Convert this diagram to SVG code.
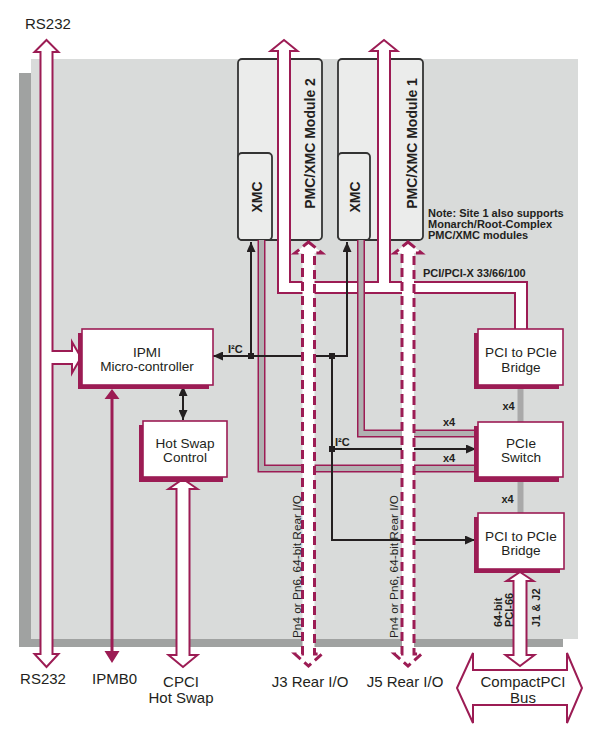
<svg xmlns="http://www.w3.org/2000/svg" width="598" height="738" viewBox="0 0 598 738">
<style>
.t{font-family:"Liberation Sans",Arial,sans-serif;fill:#231f20}
.lbl{font-size:15px;text-anchor:middle}
.box{font-size:13.6px;text-anchor:middle}
.b11{font-size:11px;font-weight:bold}
.b14{font-size:14px;font-weight:bold;text-anchor:middle}
.pn{font-size:11.8px}
.mod{fill:#ebeceb;stroke:#333;stroke-width:1.8}
.hol{fill:#fff;stroke:#9c1c54;stroke-width:2;stroke-linejoin:miter}
.dash{fill:#fff;stroke:#9c1c54;stroke-width:3;stroke-dasharray:9 5}
.blk{fill:none;stroke:#231f20;stroke-width:2}
.x4o{fill:none;stroke:#9c1c54;stroke-width:8}
.x4i{fill:none;stroke:#b1b1b1;stroke-width:5}
.sh{fill:#9c1c54}
.nb{fill:#fff;stroke:#9c1c54;stroke-width:1.6}
</style>
<defs>
<marker id="ah" viewBox="0 0 10 10" refX="10" refY="5" markerWidth="10" markerHeight="9" markerUnits="userSpaceOnUse" orient="auto-start-reverse" preserveAspectRatio="none">
<path d="M0,0 L10,5 L0,10 z" fill="#231f20"/>
</marker>
</defs>

<g id="board">
<rect x="19" y="73" width="544" height="574" fill="#a0a2a1"/>
<rect x="31" y="59" width="547" height="580" fill="#d9dbda"/>
</g>

<g id="module2">
<rect class="mod" x="238" y="59" width="84" height="181" rx="4"/>
<rect class="mod" x="238" y="153" width="34" height="87" rx="4"/>
<text class="t b14" transform="translate(262,197) rotate(-90)">XMC</text>
</g>
<g id="module1">
<rect class="mod" x="338" y="59" width="85" height="181" rx="4"/>
<rect class="mod" x="338" y="153" width="32" height="87" rx="4"/>
<text class="t b14" transform="translate(360,197) rotate(-90)">XMC</text>
</g>

<g id="connectors">
<path class="hol" d="M284 40 L297.5 51 L290 51 L290 282 L378 282 L378 51 L370.5 51 L384 40 L397.5 51 L390 51 L390 282 L527 282 L527 330 L515 330 L515 293 L278 293 L278 51 L270.5 51 Z"/>
<path class="x4o" d="M261.5 240 V468.5 H478"/>
<path class="x4i" d="M261.5 240 V468.5 H478"/>
<path class="x4o" d="M361 240 V433.5 H478"/>
<path class="x4i" d="M361 240 V433.5 H478"/>
<path class="blk" d="M251 242 V356 H347 V242" marker-start="url(#ah)" marker-end="url(#ah)"/>
<path class="blk" d="M251 356 H213" marker-end="url(#ah)"/>
<path class="blk" d="M332 356 V540 H475" marker-end="url(#ah)"/>
<path class="blk" d="M332 449 H476" marker-end="url(#ah)"/>
<rect x="248" y="353" width="6" height="6" fill="#231f20"/>
<rect x="329" y="353" width="6" height="6" fill="#231f20"/>
<rect x="329" y="446" width="6" height="6" fill="#231f20"/>
<path class="blk" d="M183 386 V420" marker-start="url(#ah)" marker-end="url(#ah)"/>
<path class="dash" d="M308.5 242 L322 253 L314.5 253 L314.5 654 L322 654 L308.5 666 L295 654 L302.5 654 L302.5 253 L295 253 Z"/>
<path class="dash" d="M408 242 L421.5 253 L414 253 L414 654 L421.5 654 L408 666 L394.5 654 L402 654 L402 253 L394.5 253 Z"/>
<path class="hol" d="M46.5 40 L58.5 52 L52.5 52 L52.5 351 L72 351 L72 342 L81 357.5 L72 373 L72 364 L52.5 364 L52.5 654 L58.5 654 L46.5 667 L34.5 654 L40.5 654 L40.5 52 L34.5 52 Z"/>
<line x1="112" y1="397" x2="112" y2="652" stroke="#9c1c54" stroke-width="3"/>
<path d="M112 389 L119.5 399 L104.5 399 Z M104.5 651 L119.5 651 L112 663 Z" fill="#9c1c54"/>
<path class="hol" d="M183 479 L197.5 489 L189.5 489 L189.5 655 L197.5 655 L183 667 L168.5 655 L176.5 655 L176.5 489 L168.5 489 Z"/>
<path class="hol" d="M520 572 L533.5 581 L526.5 581 L526.5 655 L534.5 655 L520 666 L505.5 655 L513.5 655 L513.5 581 L506.5 581 Z"/>
<path class="hol" d="M457 688 L473 653 L473 670 L567 670 L567 653 L582 688 L567 723 L567 705 L473 705 L473 723 Z"/>
<rect x="517.5" y="385" width="6" height="38" fill="#a9a9a9"/>
<rect x="517.5" y="477" width="6" height="37" fill="#a9a9a9"/>
</g>

<g id="ipmi">
<rect class="sh" x="78" y="333" width="131" height="56"/>
<rect class="nb" x="82" y="329" width="131" height="56"/>
<text class="t box" x="147" y="356.5">IPMI</text>
<text class="t box" x="147" y="371">Micro-controller</text>
</g>
<g id="hotswap">
<rect class="sh" x="139" y="425" width="84" height="57"/>
<rect class="nb" x="143" y="421" width="84" height="56"/>
<text class="t box" x="185" y="447.5">Hot Swap</text>
<text class="t box" x="185" y="462">Control</text>
</g>
<g id="bridge1">
<rect class="sh" x="474" y="333" width="85" height="56"/>
<rect class="nb" x="478" y="329" width="85" height="56"/>
<text class="t box" x="521" y="357">PCI to PCIe</text>
<text class="t box" x="521" y="371.5">Bridge</text>
</g>
<g id="switch">
<rect class="sh" x="474" y="426" width="85" height="56"/>
<rect class="nb" x="478" y="422" width="85" height="55"/>
<text class="t box" x="521" y="447.5">PCIe</text>
<text class="t box" x="521" y="462">Switch</text>
</g>
<g id="bridge2">
<rect class="sh" x="474" y="517" width="86" height="56"/>
<rect class="nb" x="478" y="513" width="86" height="56"/>
<text class="t box" x="521" y="540.5">PCI to PCIe</text>
<text class="t box" x="521" y="555">Bridge</text>
</g>

<g id="labels">
<text class="t b14" transform="translate(315,143.5) rotate(-90)">PMC/XMC Module 2</text>
<text class="t b14" transform="translate(417,143.5) rotate(-90)">PMC/XMC Module 1</text>
<text class="t b11" x="428" y="217">Note: Site 1 also supports</text>
<text class="t b11" x="428" y="228">Monarch/Root-Complex</text>
<text class="t b11" x="428" y="238.5">PMC/XMC modules</text>
<text class="t b11" x="423" y="277">PCI/PCI-X 33/66/100</text>
<text class="t b11" x="228" y="353">I²C</text>
<text class="t b11" x="335" y="446">I²C</text>
<text class="t b11" x="443" y="426">x4</text>
<text class="t b11" x="443" y="462">x4</text>
<text class="t b11" x="502.5" y="410">x4</text>
<text class="t b11" x="501.5" y="503">x4</text>
<text class="t pn" transform="translate(301,638) rotate(-90)">Pn4 or Pn6, 64-bit Rear I/O</text>
<text class="t pn" transform="translate(398,638) rotate(-90)">Pn4 or Pn6, 64-bit Rear I/O</text>
<text class="t b11" transform="translate(501.5,627) rotate(-90)">64-bit</text>
<text class="t b11" transform="translate(512.5,627) rotate(-90)">PCI-66</text>
<text class="t b11" transform="translate(540,627) rotate(-90)">J1 &amp; J2</text>
<text class="t" x="25" y="29" font-size="15">RS232</text>
<text class="t lbl" x="43" y="684">RS232</text>
<text class="t lbl" x="114.5" y="684">IPMB0</text>
<text class="t lbl" x="181" y="686.5">CPCI</text>
<text class="t lbl" x="181" y="703">Hot Swap</text>
<text class="t lbl" x="310" y="686.5">J3 Rear I/O</text>
<text class="t lbl" x="405" y="686.5">J5 Rear I/O</text>
<text class="t lbl" x="523" y="686.5">CompactPCI</text>
<text class="t lbl" x="523" y="703">Bus</text>
</g>
</svg>
